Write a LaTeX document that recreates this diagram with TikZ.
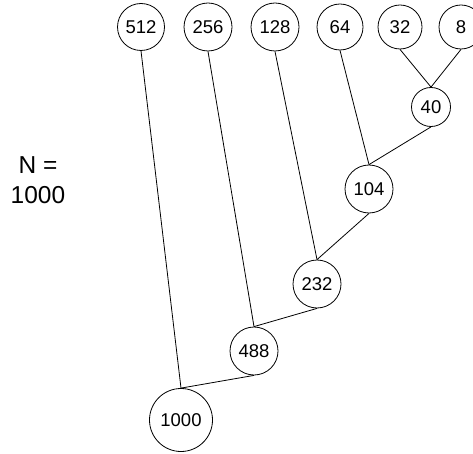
\documentclass[tikz,border=0pt]{standalone}
\usepackage{fontspec}
\setmainfont{Liberation Sans}
\begin{document}
\begin{tikzpicture}[x=1pt,y=-1pt,
  nd/.style={draw,circle,inner sep=0pt,line width=0.8pt,font=\fontsize{18.5}{18.5}\selectfont},
  ln/.style={line width=0.8pt}]
\useasboundingbox (0,0) rectangle (473,454);
\node[nd,minimum size=47pt] (n512) at (141,27) {512};
\node[nd,minimum size=48pt] (n256) at (208,27) {256};
\node[nd,minimum size=48pt] (n128) at (275,27) {128};
\node[nd,minimum size=46pt] (n64) at (340,27) {64};
\node[nd,minimum size=44pt] (n32) at (400,27) {32};
\node[nd,minimum size=44pt] (n8) at (461,27) {8};
\node[nd,minimum size=39pt] (n40) at (431,107) {40};
\node[nd,minimum size=48pt] (n104) at (369,189) {104};
\node[nd,minimum size=48pt] (n232) at (317,284) {232};
\node[nd,minimum size=48pt] (n488) at (254,351) {488};
\node[nd,minimum size=63pt] (n1000) at (181,420) {1000};
\node[font=\fontsize{24.5}{30}\selectfont,align=center] (lbl) at (38,180) {N =\\1000};
\draw[ln] (n32.south) -- (n40.north);
\draw[ln] (n8.south) -- (n40.north);
\draw[ln] (n40.south) -- (n104.north);
\draw[ln] (n64.south) -- (n104.north);
\draw[ln] (n104.south) -- (n232.north);
\draw[ln] (n128.south) -- (n232.north);
\draw[ln] (n232.south) -- (n488.north);
\draw[ln] (n256.south) -- (n488.north);
\draw[ln] (n488.south) -- (n1000.north);
\draw[ln] (n512.south) -- (n1000.north);
\end{tikzpicture}
\end{document}
